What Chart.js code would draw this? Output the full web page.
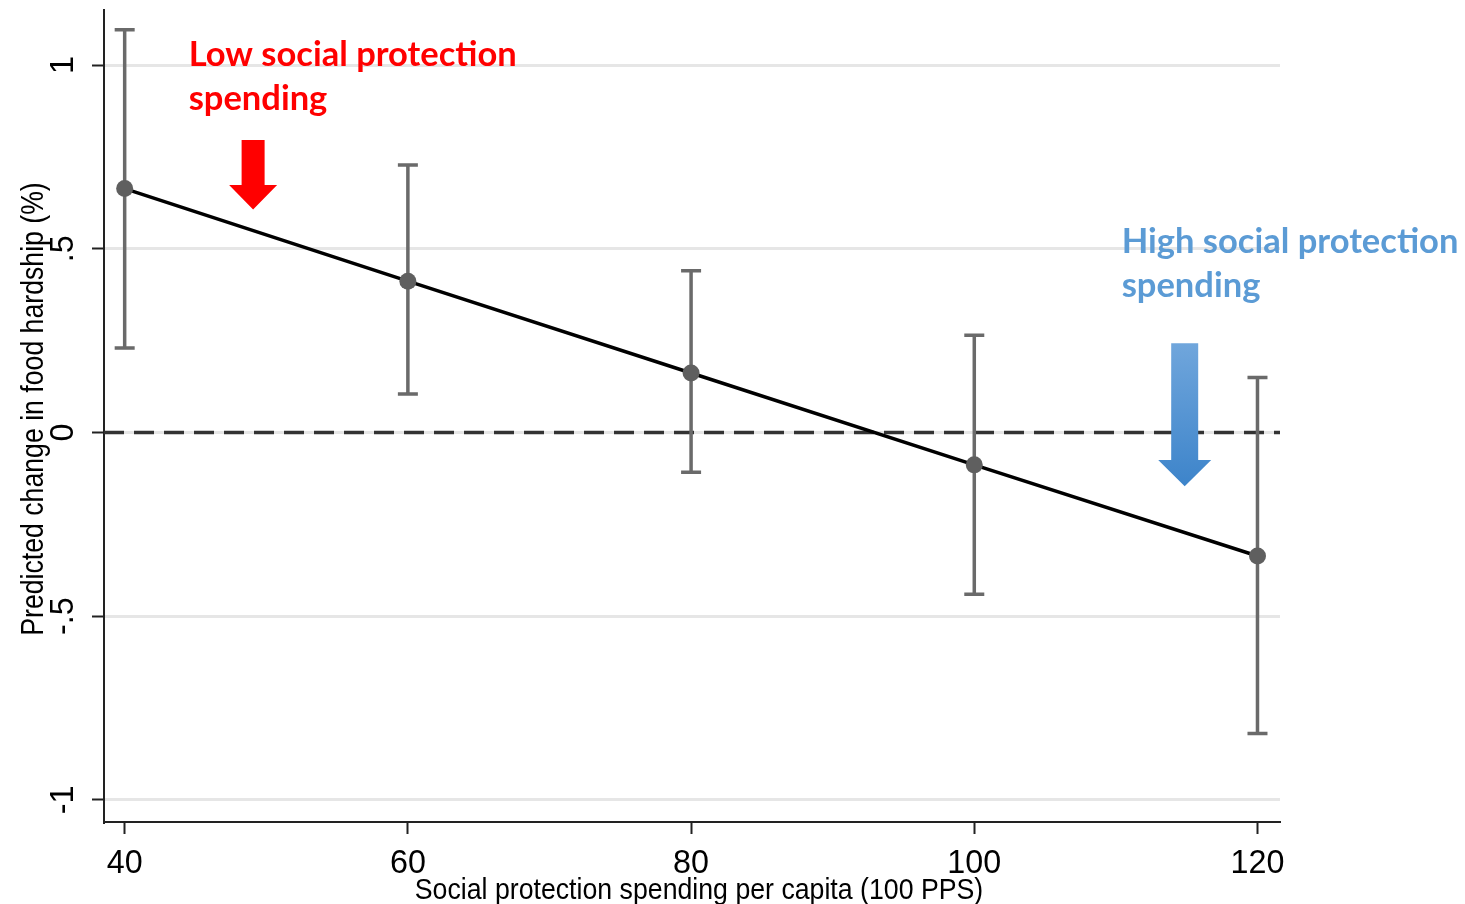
<!DOCTYPE html>
<html>
<head>
<meta charset="utf-8">
<title>Predicted change in food hardship</title>
<script src="https://cdn.jsdelivr.net/npm/chart.js@4/dist/chart.umd.min.js"></script>
<style>
  html, body { margin: 0; padding: 0; background: #fff; }
  #wrap { width: 1465px; height: 904px; position: relative; }
</style>
</head>
<body>
<div id="wrap"><canvas id="chart"></canvas></div>
<script>
// spending per capita (100 PPS)
const spending = [40, 60, 80, 100, 120];
// predicted change in food hardship (%) and 95% CI
const predicted = [0.664, 0.412, 0.162, -0.088, -0.336];
const ciLow = [0.230, 0.105, -0.108, -0.440, -0.819];
const ciHigh = [1.096, 0.728, 0.440, 0.265, 0.150];

const xTicks = [40, 60, 80, 100, 120];
const yTicks = [-1, -0.5, 0, 0.5, 1];
const yTickLabels = ['-1', '-.5', '0', '.5', '1'];

const xTitle = 'Social protection spending per capita (100 PPS)';
const yTitle = 'Predicted change in food hardship (%)';

// callouts, placed in data units
const notes = [
  { lines: ['Low social protection', 'spending'], x: 44.52, y: 0.998, color: '#ff0000' },
  { lines: ['High social protection', 'spending'], x: 110.41, y: 0.489, color: '#5b9bd5' }
];
const arrows = [
  { x: 49.07, top: 0.796, base: 0.674, tip: 0.607, shaft: 23, head: 48, colors: ['#ff0000', '#ff0000'] },
  { x: 114.86, top: 0.243, base: -0.075, tip: -0.146, shaft: 27, head: 53, colors: ['#70a6dc', '#3d84ca'] }
];

const STATA_FONT = '"Liberation Sans", Arial, sans-serif';

// Stata's Arial comes out a little narrower than ours, so squeeze it horizontally
function squashText(ctx, text, x, y, size, squash, align, rotate) {
  ctx.save();
  ctx.translate(x, y);
  if (rotate) ctx.rotate(-Math.PI / 2);
  ctx.scale(squash, 1);
  ctx.font = size + 'px ' + STATA_FONT;
  ctx.fillStyle = '#000';
  ctx.textAlign = align;
  ctx.textBaseline = 'alphabetic';
  ctx.fillText(text, 0, 0);
  ctx.restore();
}

const stataBits = {
  id: 'stataBits',
  beforeDatasetsDraw(chart) {
    const { ctx, chartArea: a, scales: { x, y } } = chart;

    // zero reference line
    ctx.save();
    ctx.strokeStyle = '#333';
    ctx.lineWidth = 3.5;
    ctx.setLineDash([20, 10]);
    ctx.beginPath();
    ctx.moveTo(a.left, y.getPixelForValue(0));
    ctx.lineTo(a.right, y.getPixelForValue(0));
    ctx.stroke();
    ctx.restore();

    // confidence intervals
    ctx.save();
    ctx.strokeStyle = '#6a6a6a';
    ctx.lineWidth = 3.5;
    spending.forEach((v, i) => {
      const px = x.getPixelForValue(v);
      const lo = y.getPixelForValue(ciLow[i]);
      const hi = y.getPixelForValue(ciHigh[i]);
      ctx.beginPath();
      ctx.moveTo(px, lo); ctx.lineTo(px, hi);
      ctx.moveTo(px - 10, lo); ctx.lineTo(px + 10, lo);
      ctx.moveTo(px - 10, hi); ctx.lineTo(px + 10, hi);
      ctx.stroke();
    });
    ctx.restore();
  },
  afterDraw(chart) {
    const { ctx, chartArea: a, scales: { x, y } } = chart;

    // axis labels
    xTicks.forEach(v => squashText(ctx, String(v), x.getPixelForValue(v), 873, 34, 0.95, 'center'));
    yTicks.forEach((v, i) => squashText(ctx, yTickLabels[i], 73, y.getPixelForValue(v), 34, 0.95, 'center', true));
    squashText(ctx, xTitle, (a.left + a.right) / 2 + 7, 899, 30, 0.89, 'center');
    squashText(ctx, yTitle, 43, (a.top + a.bottom) / 2 - 7, 31, 0.86, 'center', true);

    // callout text
    notes.forEach(n => {
      ctx.save();
      ctx.font = 'bold 34.5px Lato, "Open Sans", sans-serif';
      ctx.fillStyle = n.color;
      ctx.textAlign = 'left';
      n.lines.forEach((t, k) => ctx.fillText(t, x.getPixelForValue(n.x), y.getPixelForValue(n.y) + k * 44));
      ctx.restore();
    });

    // callout arrows
    arrows.forEach(ar => {
      const cx = x.getPixelForValue(ar.x);
      const top = y.getPixelForValue(ar.top);
      const base = y.getPixelForValue(ar.base);
      const tip = y.getPixelForValue(ar.tip);
      const g = ctx.createLinearGradient(0, top, 0, tip);
      g.addColorStop(0, ar.colors[0]);
      g.addColorStop(1, ar.colors[1]);
      ctx.save();
      ctx.fillStyle = g;
      ctx.beginPath();
      ctx.moveTo(cx - ar.shaft / 2, top);
      ctx.lineTo(cx + ar.shaft / 2, top);
      ctx.lineTo(cx + ar.shaft / 2, base);
      ctx.lineTo(cx + ar.head / 2, base);
      ctx.lineTo(cx, tip);
      ctx.lineTo(cx - ar.head / 2, base);
      ctx.lineTo(cx - ar.shaft / 2, base);
      ctx.closePath();
      ctx.fill();
      ctx.restore();
    });
  }
};

new Chart(document.getElementById('chart'), {
  type: 'line',
  data: {
    datasets: [{
      label: 'Predicted change',
      data: spending.map((v, i) => ({ x: v, y: predicted[i] })),
      borderColor: '#000',
      borderWidth: 3.5,
      pointRadius: 8.5,
      pointBackgroundColor: '#5f5f5f',
      pointBorderWidth: 0,
      tension: 0
    }]
  },
  options: {
    responsive: true,
    maintainAspectRatio: false,
    animation: false,
    layout: { padding: { top: 10, right: 185, left: 0, bottom: 0 } },
    plugins: { legend: { display: false }, tooltip: { enabled: false } },
    scales: {
      x: {
        type: 'linear',
        min: 38.54,
        max: 121.59,
        afterBuildTicks: s => { s.ticks = xTicks.map(v => ({ value: v })); },
        afterFit: s => { s.height = 82; },
        ticks: { display: false },
        grid: { drawOnChartArea: false, drawTicks: true, tickLength: 12, tickColor: '#222', tickWidth: 2 },
        border: { display: true, color: '#222', width: 2 }
      },
      y: {
        min: -1.06,
        max: 1.15,
        afterBuildTicks: s => { s.ticks = yTicks.map(v => ({ value: v })); },
        afterFit: s => { s.width = 104; },
        ticks: { display: false },
        grid: { color: '#e6e6e6', lineWidth: 3, drawTicks: true, tickLength: 12, tickColor: '#222', tickWidth: 2 },
        border: { display: true, color: '#222', width: 2 }
      }
    }
  },
  plugins: [stataBits]
});
</script>
</body>
</html>
